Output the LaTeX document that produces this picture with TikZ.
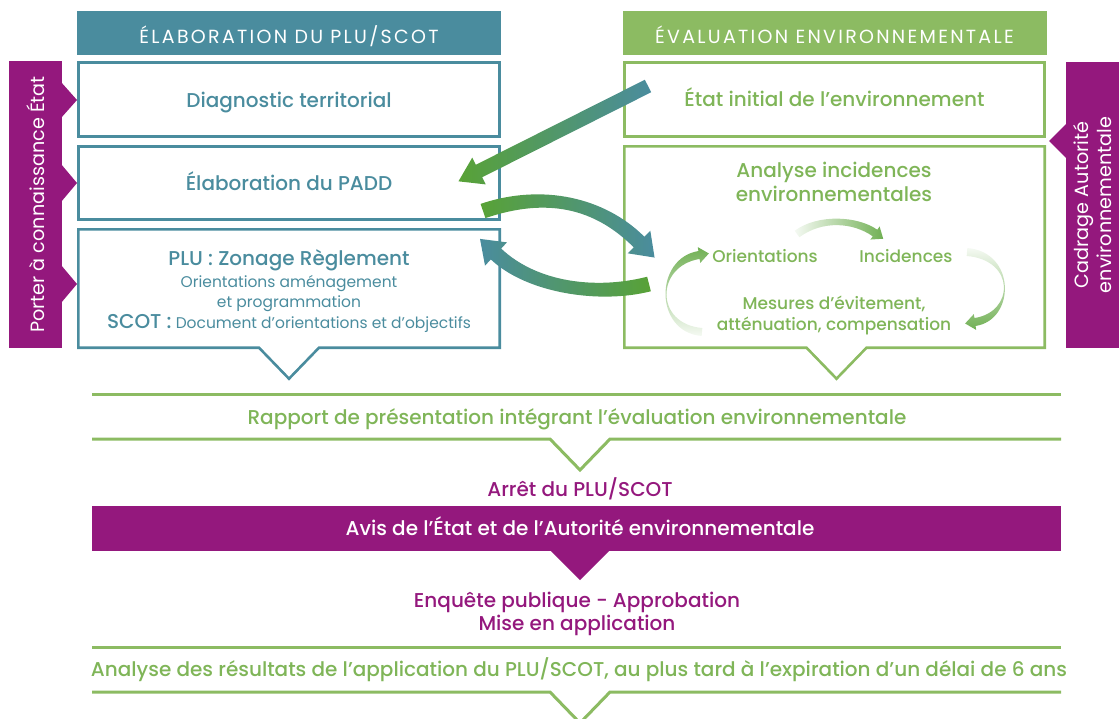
\documentclass[tikz,border=0pt]{standalone}
\usepackage{fontspec}
\setmainfont{Poppins}
\newfontfamily\medfont{Poppins Medium}
\newfontfamily\trackfont{Poppins}[LetterSpace=12]
\usetikzlibrary{calc}

\definecolor{plublue}{HTML}{4A8C9E}
\definecolor{evalgreen}{HTML}{8CBB62}
\definecolor{txtgreen}{HTML}{7FB558}
\definecolor{arrgreen}{HTML}{58A236}
\definecolor{arrteal}{HTML}{4A8C9E}
\definecolor{autpurple}{HTML}{94187D}

% Thick gradient arrow along a cubic curve:
% #1 shading options, #2 start, #3 control 1, #4 control 2, #5 head base,
% #6 half shaft width, #7 half head width, #8 head length
\newcommand{\gradarrow}[8]{%
  \shade[#1]
    ($(#2)!#6!90:(#3)$) .. controls ($(#3)!#6!-90:(#2)$) and ($(#4)!#6!90:(#5)$) .. ($(#5)!#6!-90:(#4)$)
    -- ($(#5)!#7!-90:(#4)$) -- ($(#5)!-#8!(#4)$) -- ($(#5)!#7!90:(#4)$)
    -- ($(#5)!#6!90:(#4)$) .. controls ($(#4)!#6!-90:(#5)$) and ($(#3)!#6!90:(#2)$) .. ($(#2)!#6!-90:(#3)$)
    -- cycle;}

\begin{document}
\begin{tikzpicture}[x=1pt,y=-1pt,
  every node/.style={inner sep=0pt, outer sep=0pt},
  headbox/.style={minimum width=424pt, minimum height=44pt},
  headtext/.style={anchor=base, text=white, font=\trackfont\fontsize{19}{22}\selectfont},
  bluebox/.style={draw=plublue, line width=2.6pt, minimum width=421.4pt},
  greenbox/.style={draw=evalgreen, line width=2.6pt, minimum width=420.4pt},
  bluetitle/.style={anchor=base, text=plublue, font=\medfont\fontsize{20}{24}\selectfont},
  bluesmall/.style={anchor=base, text=plublue, font=\fontsize{15.5}{18}\selectfont},
  greentitle/.style={anchor=base, text=txtgreen, font=\medfont\fontsize{20}{24}\selectfont},
  greensmall/.style={anchor=base, text=txtgreen, font=\medfont\fontsize{17}{20}\selectfont},
  sidebar/.style={fill=autpurple},
  sidetext/.style={text=white, rotate=90, align=center,
    font=\fontsize{19.2}{23}\selectfont},
  stepline/.style={draw=evalgreen, line width=3pt},
  steptext/.style={anchor=base, font=\medfont\fontsize{20}{24}\selectfont},
]
\useasboundingbox (0,0) rectangle (1119,718);
\clip (0,0) rectangle (1119,718);

% ---- column headers
\node[headbox, fill=plublue] (hl) at (289,33) {};
\node[headtext] at (289,43) {ÉLABORATION DU PLU/SCOT};
\node[headbox, fill=evalgreen] (hr) at (834.5,33) {};
\node[headtext] at (834.5,43) {ÉVALUATION ENVIRONNEMENTALE};

% ---- left column: PLU/SCOT elaboration
\node[bluebox, minimum height=74.4pt] (diag) at (289,99.5) {};
\node[bluetitle] at (289,107) {Diagnostic territorial};
\node[bluebox, minimum height=73.4pt] (padd) at (289,183) {};
\node[bluetitle] at (289,190) {Élaboration du PADD};
\node[minimum width=421.4pt, minimum height=118.4pt] (plu) at (289,288.5) {};
\draw[plublue, line width=2.6pt, line join=miter]
  (plu.south) ++(-30,0) -- (plu.south west) -- (plu.north west) -- (plu.north east)
  -- (plu.south east) -- ($(plu.south)+(30,0)$) -- ($(plu.south)+(0,31)$) -- cycle;
\fill[white] ($(plu.south)+(-28.5,-1.2)$) -- ($(plu.south)+(28.5,-1.2)$) -- ($(plu.south)+(0,28)$) -- cycle;
\node[bluetitle] (plua) at (289,265) {PLU : Zonage Règlement};
\node[bluesmall] (plub) at (289,287) {Orientations aménagement};
\node[bluesmall] (pluc) at (289,307.5) {et programmation};
\node[bluesmall] (plud) at (289,328) {{\medfont\fontsize{20}{24}\selectfont SCOT :} Document d’orientations et d’objectifs};

% ---- right column: environmental assessment
\node[greenbox, minimum height=74.4pt] (eie) at (834.5,99.5) {};
\node[greentitle] at (834.5,106) {État initial de l’environnement};
\node[minimum width=420.4pt, minimum height=201.4pt] (inc) at (834.5,247) {};
\draw[evalgreen, line width=2.6pt, line join=miter]
  ($(inc.south)+(-28,0)$) -- (inc.south west) -- (inc.north west) -- (inc.north east)
  -- (inc.south east) -- ($(inc.south)+(32,0)$) -- ($(inc.south)+(2,31)$) -- cycle;
\fill[white] ($(inc.south)+(-26.5,-1.2)$) -- ($(inc.south)+(30.5,-1.2)$) -- ($(inc.south)+(2,28)$) -- cycle;
\node[greentitle] (inct) at (834,177) {Analyse incidences};
\node[greentitle] (inct2) at (834,201) {environnementales};
\node[greensmall] (ori) at (765,262) {Orientations};
\node[greensmall] (incd) at (906,262) {Incidences};
\node[greensmall] (mes1) at (834,309) {Mesures d’évitement,};
\node[greensmall] (mes2) at (834,330.5) {atténuation, compensation};

% ---- small cycle arrows
\coordinate (t1) at (797,234); \coordinate (t2) at (820,217);
\coordinate (t3) at (855,219); \coordinate (t4) at (875,233);
\gradarrow{left color=arrgreen!6, right color=arrgreen!85}{t1}{t2}{t3}{t4}{4pt}{8pt}{10pt}
\coordinate (r1) at (967,252); \coordinate (r2) at (1016,256);
\coordinate (r3) at (1015,316); \coordinate (r4) at (975,322);
\gradarrow{top color=arrgreen!6, bottom color=arrgreen!85}{r1}{r2}{r3}{r4}{4pt}{8pt}{10pt}
\coordinate (l1) at (702,332); \coordinate (l2) at (654,328);
\coordinate (l3) at (655,262); \coordinate (l4) at (699,255);
\gradarrow{bottom color=arrgreen!6, top color=arrgreen!85}{l1}{l2}{l3}{l4}{4pt}{8pt}{10pt}

% ---- exchanges between the two columns
\coordinate (a1) at (648,86); \coordinate (a4) at (479,171);
\coordinate (a2) at ($(a1)!0.33!(a4)$); \coordinate (a3) at ($(a1)!0.66!(a4)$);
\gradarrow{left color=arrgreen, right color=arrteal}{a1}{a2}{a3}{a4}{7pt}{15pt}{23pt}
\coordinate (b1) at (483,211); \coordinate (b2) at (545,190);
\coordinate (b3) at (600,203); \coordinate (b4) at (639,242);
\gradarrow{left color=arrgreen, right color=arrteal}{b1}{b2}{b3}{b4}{7.5pt}{16pt}{22pt}
\coordinate (c1) at (649,284); \coordinate (c2) at (598,297);
\coordinate (c3) at (532,288); \coordinate (c4) at (496,254);
\gradarrow{left color=arrteal, right color=arrgreen}{c1}{c2}{c3}{c4}{7.5pt}{16pt}{22pt}

% ---- side bars
\node[sidebar, minimum width=53pt, minimum height=287pt] (pac) at (35.5,204.5) {};
\fill[autpurple] (61,82) -- (77,100) -- (61,118) -- cycle;
\fill[autpurple] (61,164) -- (77,183) -- (61,202) -- cycle;
\fill[autpurple] (61,265) -- (77,284) -- (61,303) -- cycle;
\node[sidetext] at (pac) {Porter à connaissance État};
\node[sidebar, minimum width=53pt, minimum height=286pt] (cae) at (1092.5,205) {};
\fill[autpurple] (1067,123) -- (1049,141) -- (1067,159) -- cycle;
\node[sidetext] at (cae) {Cadrage Autorité\\environnementale};

% ---- procedure steps
\draw[stepline] (92,394) -- (1061,394);
\node[steptext, text=txtgreen] (rap) at (577,424) {Rapport de présentation intégrant l’évaluation environnementale};
\draw[stepline, line join=miter] (92,439) -- (550,439) -- (580,470) -- (610,439) -- (1061,439);
\node[steptext, text=autpurple] (arr) at (580,496) {Arrêt du PLU/SCOT};
\node[fill=autpurple, minimum width=969pt, minimum height=45pt] (avis) at (576.5,528.5) {};
\node[steptext, text=white] at (580,535) {Avis de l’État et de l’Autorité environnementale};
\fill[autpurple] (550,550) -- (580,580) -- (610,550) -- cycle;
\node[steptext, text=autpurple] (enq) at (577,607) {Enquête publique - Approbation};
\node[steptext, text=autpurple] (mise) at (577,630) {Mise en application};
\draw[stepline] (92,647) -- (1061,647);
\node[steptext, text=txtgreen] (res) at (579,676) {Analyse des résultats de l’application du PLU/SCOT, au plus tard à l’expiration d’un délai de 6 ans};
\draw[stepline, line join=miter] (92,692) -- (550,692) -- (580,723) -- (610,692) -- (1061,692);
\end{tikzpicture}
\end{document}
